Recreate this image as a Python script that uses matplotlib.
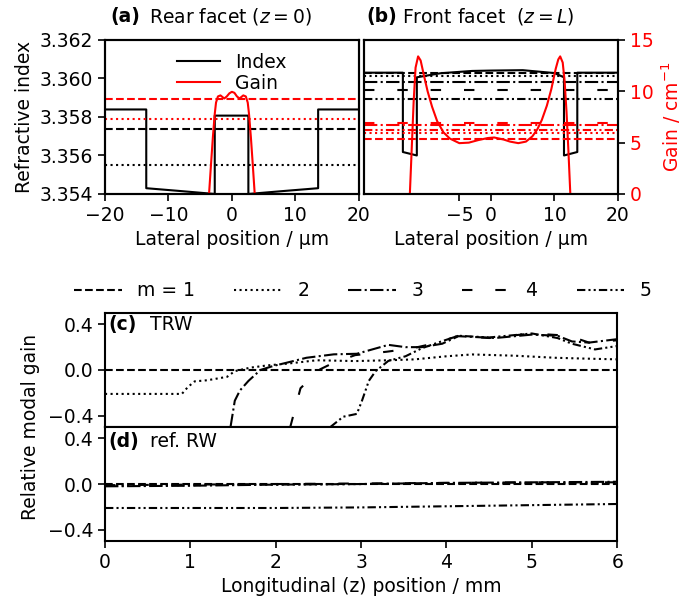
import numpy as np
import matplotlib
matplotlib.use("Agg")
import matplotlib.pyplot as plt
from matplotlib.lines import Line2D
from matplotlib.ticker import FuncFormatter

plt.rcParams['font.size'] = 13.5
plt.rcParams['axes.linewidth'] = 1.5

# ---- data -------------------------------------------------------------
# (a) rear facet: index profile and gain profile
xa_index = [-20, -13.5, -13.5, -8, -2.7, -2.7, 2.6, 2.6, 8, 13.6, 13.6, 20]
na_index = [3.35839, 3.35839, 3.35430, 3.35415, 3.35400, 3.35807, 3.35807,
            3.35400, 3.35415, 3.35430, 3.35839, 3.35839]
xa_gain = [-4.0, -3.6, -3.3, -3.0, -2.7, -2.5, -2.2, -1.8, -1.5, -1.2, -0.8,
           -0.4, 0.0, 0.4, 0.8, 1.2, 1.5, 1.8, 2.2, 2.5, 2.7, 3.0, 3.3, 3.6, 4.0]
ga_gain = [-2.0, 0.0, 2.8, 5.5, 7.8, 8.9, 9.5, 9.6, 9.45, 9.3, 9.5,
           9.8, 9.95, 9.85, 9.5, 9.3, 9.45, 9.6, 9.5, 8.9, 7.8, 5.5, 2.8, 0.0, -2.0]
neff_a = {1: 3.35739, 2: 3.35553}
gmod_a = {1: 9.25, 2: 7.33}

# (b) front facet
xb_index = [-20, -13.9, -13.9, -11.7, -11.7, -8, -3, 0, 5, 10, 11.5, 11.5, 13.6, 13.6, 20]
nb_index = [3.36030, 3.36030, 3.35618, 3.35600, 3.36006, 3.36027, 3.36039, 3.36041,
            3.36043, 3.36028, 3.36006, 3.35600, 3.35618, 3.36030, 3.36030]
xb_gain = [-13.2, -12.8, -12.5, -12.2, -11.9, -11.5, -11.1, -10.6, -10.0, -9.3, -8.5,
           -7.5, -6.5, -5.0, -3.5, -2.0, -0.5, 0.5, 2.0, 3.0, 4.3, 5.5, 6.5, 7.3,
           8.0, 8.8, 9.5, 10.2, 10.6, 10.9, 11.3, 11.6, 11.9, 12.2, 12.5, 12.8]
gb_gain = [-3.0, 0.0, 4.5, 9.0, 12.3, 13.4, 13.0, 11.6, 10.0, 8.5, 7.1,
           6.0, 5.4, 4.95, 5.0, 5.25, 5.45, 5.5, 5.3, 5.1, 4.95, 5.1, 5.6, 6.3,
           7.2, 8.6, 10.2, 12.2, 13.1, 13.4, 12.8, 11.0, 8.0, 4.2, 0.0, -3.0]
neff_b = {1: 3.36028, 2: 3.36015, 3: 3.35983, 4: 3.35940, 5: 3.35892}
gmod_b = {1: 5.35, 2: 5.9, 3: 6.7, 4: 6.94, 5: 6.23}

# (c) TRW relative modal gain along z
zc = {
    1: [0, 6],
    2: [0, 0.9, 0.97, 1.05, 1.2, 1.43, 1.52, 1.7, 1.9, 2.13, 2.48, 2.93, 3.32,
        3.63, 4.0, 4.3, 4.8, 5.27, 5.6, 6.0],
    3: [1.47, 1.52, 1.58, 1.68, 1.82, 1.97, 2.13, 2.36, 2.68, 2.95, 3.32, 3.52,
        3.71, 3.95, 4.14, 4.57, 5.0, 5.3, 5.47, 5.67, 6.0],
    4: [2.17, 2.29, 2.52, 2.68, 2.93, 3.3, 3.6, 3.9, 4.14, 4.5, 5.0, 5.43, 5.67, 6.0],
    5: [2.64, 2.79, 2.95, 3.01, 3.09, 3.17, 3.32, 3.52, 3.71, 3.9, 4.14, 4.5,
        5.0, 5.3, 5.47, 5.74, 6.0],
}
gc = {
    1: [0.0, 0.0],
    2: [-0.21, -0.21, -0.15, -0.10, -0.09, -0.06, -0.01, 0.02, 0.04, 0.055, 0.085,
        0.078, 0.085, 0.093, 0.12, 0.136, 0.125, 0.107, 0.10, 0.093],
    3: [-0.5, -0.27, -0.18, -0.096, 0.0, 0.035, 0.064, 0.107, 0.137, 0.142, 0.22, 0.20,
        0.20, 0.23, 0.296, 0.28, 0.31, 0.30, 0.25, 0.24, 0.27],
    4: [-0.5, -0.16, 0.006, 0.064, 0.13, 0.16, 0.19, 0.24, 0.30, 0.28, 0.32, 0.30, 0.24, 0.26],
    5: [-0.5, -0.41, -0.385, -0.27, -0.096, -0.01, 0.08, 0.12, 0.19, 0.24, 0.30, 0.285,
        0.32, 0.28, 0.23, 0.18, 0.21],
}

# (d) reference RW
zd = [0, 1, 2, 3, 4, 5, 6]
gd = {
    1: [0, 0, 0, 0, 0, 0, 0],
    2: [-0.015, -0.01, -0.005, 0.0, 0.005, 0.01, 0.01],
    3: [-0.02, -0.015, -0.005, 0.0, 0.01, 0.015, 0.02],
    4: [-0.01, -0.005, 0.0, 0.005, 0.01, 0.015, 0.015],
    5: [-0.21, -0.21, -0.21, -0.205, -0.195, -0.185, -0.175],
}

mode_styles = {
    1: '--',
    2: ':',
    3: '-.',
    4: (0, (5, 11)),
    5: (0, (4, 1.5, 1, 1.5, 1, 1.5)),
}
mode_labels = {1: 'm = 1', 2: '2', 3: '3', 4: '4', 5: '5'}
lw = 1.5


def fmt(decimals):
    def f(v, pos):
        s = '{:.{}f}'.format(v, decimals)
        if float(s) == 0:
            s = s.lstrip('-')
        return s.replace('-', '\u2212')
    return FuncFormatter(f)


# ---- figure -----------------------------------------------------------
fig = plt.figure(figsize=(6.82, 6.1), dpi=100)

ax_a = fig.add_axes([0.154, 0.682, 0.372, 0.2525])
ax_b = fig.add_axes([0.534, 0.682, 0.372, 0.2525])
ax_c = fig.add_axes([0.154, 0.300, 0.751, 0.187])
ax_d = fig.add_axes([0.154, 0.113, 0.751, 0.187])

ylim_n = (3.354, 3.362)
ylim_g = (0, 15)

# (a)
ax_a.plot(xa_index, na_index, color='k', lw=lw)
for m, n in neff_a.items():
    ax_a.axhline(n, color='k', ls=mode_styles[m], lw=lw)
ax_a.set_xlim(-20, 20)
ax_a.set_ylim(*ylim_n)
ax_a.set_xticks([-20, -10, 0, 10, 20])
ax_a.set_yticks([3.354, 3.356, 3.358, 3.360, 3.362])
ax_a.yaxis.set_major_formatter(fmt(3))
ax_a.set_xlabel('Lateral position / µm')
ax_a.set_ylabel('Refractive index')
ga = ax_a.twinx()
ga.plot(xa_gain, ga_gain, color='red', lw=lw)
for m, g in gmod_a.items():
    ga.axhline(g, color='red', ls=mode_styles[m], lw=lw)
ga.set_ylim(*ylim_g)
ga.tick_params(right=False, labelright=False)
ax_a.tick_params(width=1.2, length=5)
ax_a.legend([Line2D([], [], color='k', lw=lw), Line2D([], [], color='red', lw=lw)],
            ['Index', 'Gain'], loc='upper center', frameon=False,
            bbox_to_anchor=(0.5, 0.99), handlelength=2.3, labelspacing=0.1,
            borderaxespad=0.2)
ax_a.text(0.02, 1.15, '(a)', transform=ax_a.transAxes, fontweight='bold', va='center')
ax_a.text(0.175, 1.15, 'Rear facet ($z = 0$)', transform=ax_a.transAxes, va='center')

# (b)
ax_b.plot(xb_index, nb_index, color='k', lw=lw)
for m, n in neff_b.items():
    ax_b.axhline(n, color='k', ls=mode_styles[m], lw=lw)
ax_b.set_xlim(-20, 20)
ax_b.set_ylim(*ylim_n)
ax_b.set_xticks([-5, 0, 10, 20])
ax_b.xaxis.set_major_formatter(fmt(0))
ax_b.set_xlabel('Lateral position / µm')
gb = ax_b.twinx()
gb.plot(xb_gain, gb_gain, color='red', lw=lw)
for m, g in gmod_b.items():
    gb.axhline(g, color='red', ls=mode_styles[m], lw=lw)
gb.set_ylim(*ylim_g)
gb.set_yticks([0, 5, 10, 15])
gb.tick_params(axis='y', labelcolor='red', width=1.2, length=5)
gb.set_ylabel('Gain / cm$^{-1}$', color='red')
ax_b.tick_params(left=False, labelleft=False, width=1.2, length=5)
ax_b.text(0.01, 1.15, '(b)', transform=ax_b.transAxes, fontweight='bold', va='center')
ax_b.text(0.15, 1.15, 'Front facet  ($z = L$)', transform=ax_b.transAxes, va='center')

# (c) and (d)
for m in range(1, 6):
    ax_c.plot(zc[m], gc[m], color='k', ls=mode_styles[m], lw=lw)
    ax_d.plot(zd, gd[m], color='k', ls=mode_styles[m], lw=lw)
for ax in (ax_c, ax_d):
    ax.set_xlim(0, 6)
    ax.set_ylim(-0.5, 0.5)
    ax.set_yticks([-0.4, 0.0, 0.4])
    ax.set_xticks(range(7))
    ax.yaxis.set_major_formatter(fmt(1))
    ax.tick_params(width=1.2, length=5)
ax_c.tick_params(labelbottom=False)
ax_d.set_xlabel('Longitudinal (z) position / mm')
ax_c.text(0.006, 0.895, '(c)', transform=ax_c.transAxes, fontweight='bold', va='center')
ax_c.text(0.088, 0.895, 'TRW', transform=ax_c.transAxes, va='center')
ax_d.text(0.006, 0.87, '(d)', transform=ax_d.transAxes, fontweight='bold', va='center')
ax_d.text(0.088, 0.87, 'ref. RW', transform=ax_d.transAxes, va='center')
fig.text(0.044, 0.30, 'Relative modal gain', rotation=90, ha='center', va='center')

# mode legend
handles = [Line2D([], [], color='k', ls=mode_styles[m], lw=lw) for m in range(1, 6)]
fig.legend(handles, [mode_labels[m] for m in range(1, 6)], loc='center left',
           bbox_to_anchor=(0.095, 0.523), ncol=5, frameon=False,
           handlelength=2.55, handletextpad=0.8, columnspacing=2.1, borderpad=0)

fig.savefig('out.png', dpi=100)
